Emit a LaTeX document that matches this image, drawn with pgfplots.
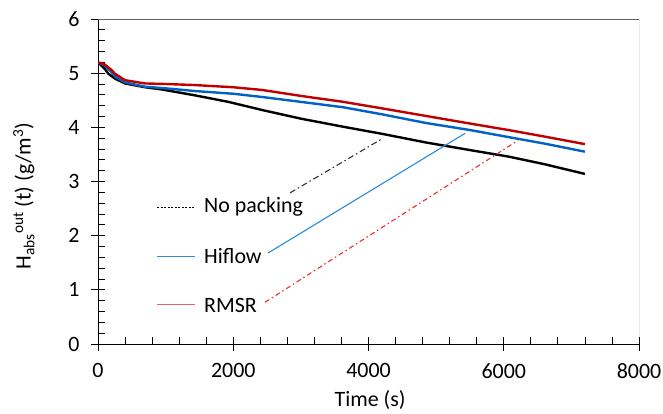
\documentclass[border=0pt]{standalone}
\usepackage{fontspec}
\setmainfont{Carlito}
\usepackage{pgfplots}
\pgfplotsset{compat=1.18}
\definecolor{cred}{HTML}{C00000}
\definecolor{cblue}{HTML}{0062C4}
\definecolor{lblue}{HTML}{2A8AD8}
\definecolor{lred}{HTML}{E8302F}
\definecolor{sred}{HTML}{E06666}
\definecolor{frame}{HTML}{606060}
\begin{document}
\begin{tikzpicture}
\begin{axis}[
  scale only axis, width=541bp, height=325bp,
  xmin=0, xmax=8000, ymin=0, ymax=6,
  xtick={0,2000,4000,6000,8000}, ytick={0,1,2,3,4,5,6},
  minor x tick num=4, minor y tick num=4,
  axis x line*=bottom, axis y line*=left,
  axis line style={black, line width=0.8bp},
  tick align=inside,
  major tick length=14bp, minor tick length=7bp,
  tick style={black, line width=0.8bp},
  major x tick style={yshift=-7bp},
  major y tick style={xshift=-7bp},
  /pgf/number format/assume math mode=true,
  /pgf/number format/1000 sep={},
  scaled x ticks=false,
  ticklabel style={font=\fontsize{22}{25}\selectfont},
  xticklabel style={yshift=-16bp},
  yticklabel style={xshift=-15bp},
  label style={font=\fontsize{22}{25}\selectfont},
  xlabel={Time (s)},
  ylabel={H\textsubscript{abs}\textsuperscript{out} (t) (g/m\textsuperscript{3})},
  xlabel style={at={(axis description cs:0.503,-0.172)}, anchor=center},
  ylabel style={at={(axis description cs:-0.137,0.455)}, anchor=center},
]
\draw[frame, line width=0.8bp] (rel axis cs:0,1) -- (rel axis cs:1,1) -- (rel axis cs:1,0);
% No packing
\addplot[black, line width=2.4bp] coordinates {
(0,5.20) (100,5.08) (153,4.99) (250,4.90) (400,4.81) (695,4.74) (940,4.70)
(1435,4.59) (1928,4.47) (2426,4.32) (3000,4.16) (3629,4.01) (4200,3.88)
(4850,3.72) (5500,3.58) (6070,3.46) (6600,3.32) (7200,3.14)};
% Hiflow
\addplot[cblue, line width=2.4bp] coordinates {
(0,5.20) (100,5.14) (200,5.02) (250,4.94) (400,4.83) (695,4.75) (1000,4.72)
(1435,4.67) (2000,4.62) (2426,4.56) (3000,4.47) (3629,4.37) (4200,4.24)
(4850,4.08) (5500,3.95) (6070,3.82) (6600,3.70) (7200,3.55)};
% RMSR
\addplot[cred, line width=2.4bp] coordinates {
(0,5.20) (100,5.16) (200,5.06) (250,4.99) (400,4.87) (695,4.81) (1000,4.80)
(1435,4.78) (2000,4.74) (2426,4.69) (3000,4.58) (3629,4.47) (4200,4.35)
(4850,4.21) (5500,4.07) (6070,3.95) (6600,3.83) (7200,3.69)};
% leader lines
\addplot[black!80, line width=1.1bp, dash pattern=on 6bp off 3bp on 1.5bp off 3bp] coordinates {(2840,2.79) (4216,3.80)};
\addplot[lblue, line width=1.1bp] coordinates {(2515,1.68) (5429,3.89)};
\addplot[lred, line width=1.1bp, dash pattern=on 5bp off 3bp on 1.5bp off 3bp] coordinates {(2470,0.77) (6213,3.76)};
% legend samples
\addplot[black, line width=0.8bp, dash pattern=on 2bp off 1.5bp] coordinates {(873,2.53) (1440,2.53)};
\addplot[lblue, line width=1bp] coordinates {(873,1.61) (1440,1.61)};
\addplot[sred, line width=1bp] coordinates {(873,0.72) (1440,0.72)};
\node[anchor=base west, inner sep=0, font=\fontsize{22}{25}\selectfont] at (axis cs:1568,2.42) {No packing};
\node[anchor=base west, inner sep=0, font=\fontsize{22}{25}\selectfont] at (axis cs:1568,1.48) {Hiflow};
\node[anchor=base west, inner sep=0, font=\fontsize{22}{25}\selectfont] at (axis cs:1568,0.59) {RMSR};
\end{axis}
\pgfresetboundingbox
\path ([shift={(-98bp,-70bp)}]current axis.south west) rectangle ([shift={(24bp,19bp)}]current axis.north east);
\end{tikzpicture}
\end{document}
